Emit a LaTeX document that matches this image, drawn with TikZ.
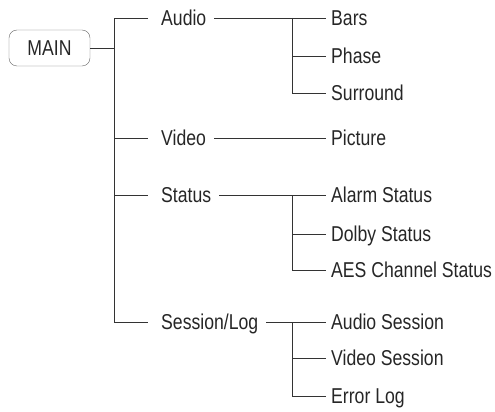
\documentclass[tikz,border=0pt]{standalone}
\usepackage{fontspec}
\setmainfont[FakeStretch=0.82]{Liberation Sans}
\usetikzlibrary{calc}

\begin{document}
\begin{tikzpicture}[
    x=1pt, y=-1pt,
    menu/.style={draw=black!60, rounded corners=8pt, minimum width=81, minimum height=36, inner sep=0pt, text=black!85, font=\fontsize{21.5}{24}\selectfont},
    item/.style={anchor=west, inner sep=0pt, text height=15pt, text depth=0pt, text=black!85, font=\fontsize{21.5}{24}\selectfont},
    wire/.style={draw=black!80, line width=0.9pt}
]
\useasboundingbox (0,0) rectangle (495,412);

% Top level
\node[menu] (main) at (49.5,48) {MAIN};
\coordinate (trunk) at (114,48);
\coordinate (fork) at (292,0);

% First level items
\node[item] (audio)   at (161,18)  {Audio};
\node[item] (video)   at (161,138) {Video};
\node[item] (status)  at (161,195) {Status};
\node[item] (session) at (161,322) {Session/Log};

% Second level items
\node[item] (bars)     at (331,18)  {Bars};
\node[item] (phase)    at (331,56)  {Phase};
\node[item] (surround) at (331,93)  {Surround};
\node[item] (picture)  at (331,138) {Picture};
\node[item] (alarm)    at (331,195) {Alarm Status};
\node[item] (dolby)    at (331,234) {Dolby Status};
\node[item] (aes)      at (331,270) {AES Channel Status};
\node[item] (asession) at (331,322) {Audio Session};
\node[item] (vsession) at (331,358) {Video Session};
\node[item] (errlog)   at (331,396) {Error Log};

% Main trunk
\draw[wire] (main.east) -- (trunk);
\draw[wire] ([xshift=-13pt]audio.west) -| (trunk |- session.west) -- ([xshift=-13pt]session.west);
\draw[wire] (trunk |- video.west) -- ([xshift=-13pt]video.west);
\draw[wire] (trunk |- status.west) -- ([xshift=-13pt]status.west);

% Audio
\draw[wire] ([xshift=8pt]audio.east) -- ([xshift=-5pt]bars.west);
\draw[wire] (fork |- bars.west) |- ([xshift=-5pt]surround.west);
\draw[wire] (fork |- phase.west) -- ([xshift=-5pt]phase.west);

% Video
\draw[wire] ([xshift=8pt]video.east) -- ([xshift=-5pt]picture.west);

% Status
\draw[wire] ([xshift=8pt]status.east) -- ([xshift=-5pt]alarm.west);
\draw[wire] (fork |- alarm.west) |- ([xshift=-5pt]aes.west);
\draw[wire] (fork |- dolby.west) -- ([xshift=-5pt]dolby.west);

% Session/Log
\draw[wire] ([xshift=8pt]session.east) -- ([xshift=-5pt]asession.west);
\draw[wire] (fork |- asession.west) |- ([xshift=-5pt]errlog.west);
\draw[wire] (fork |- vsession.west) -- ([xshift=-5pt]vsession.west);

\end{tikzpicture}
\end{document}
